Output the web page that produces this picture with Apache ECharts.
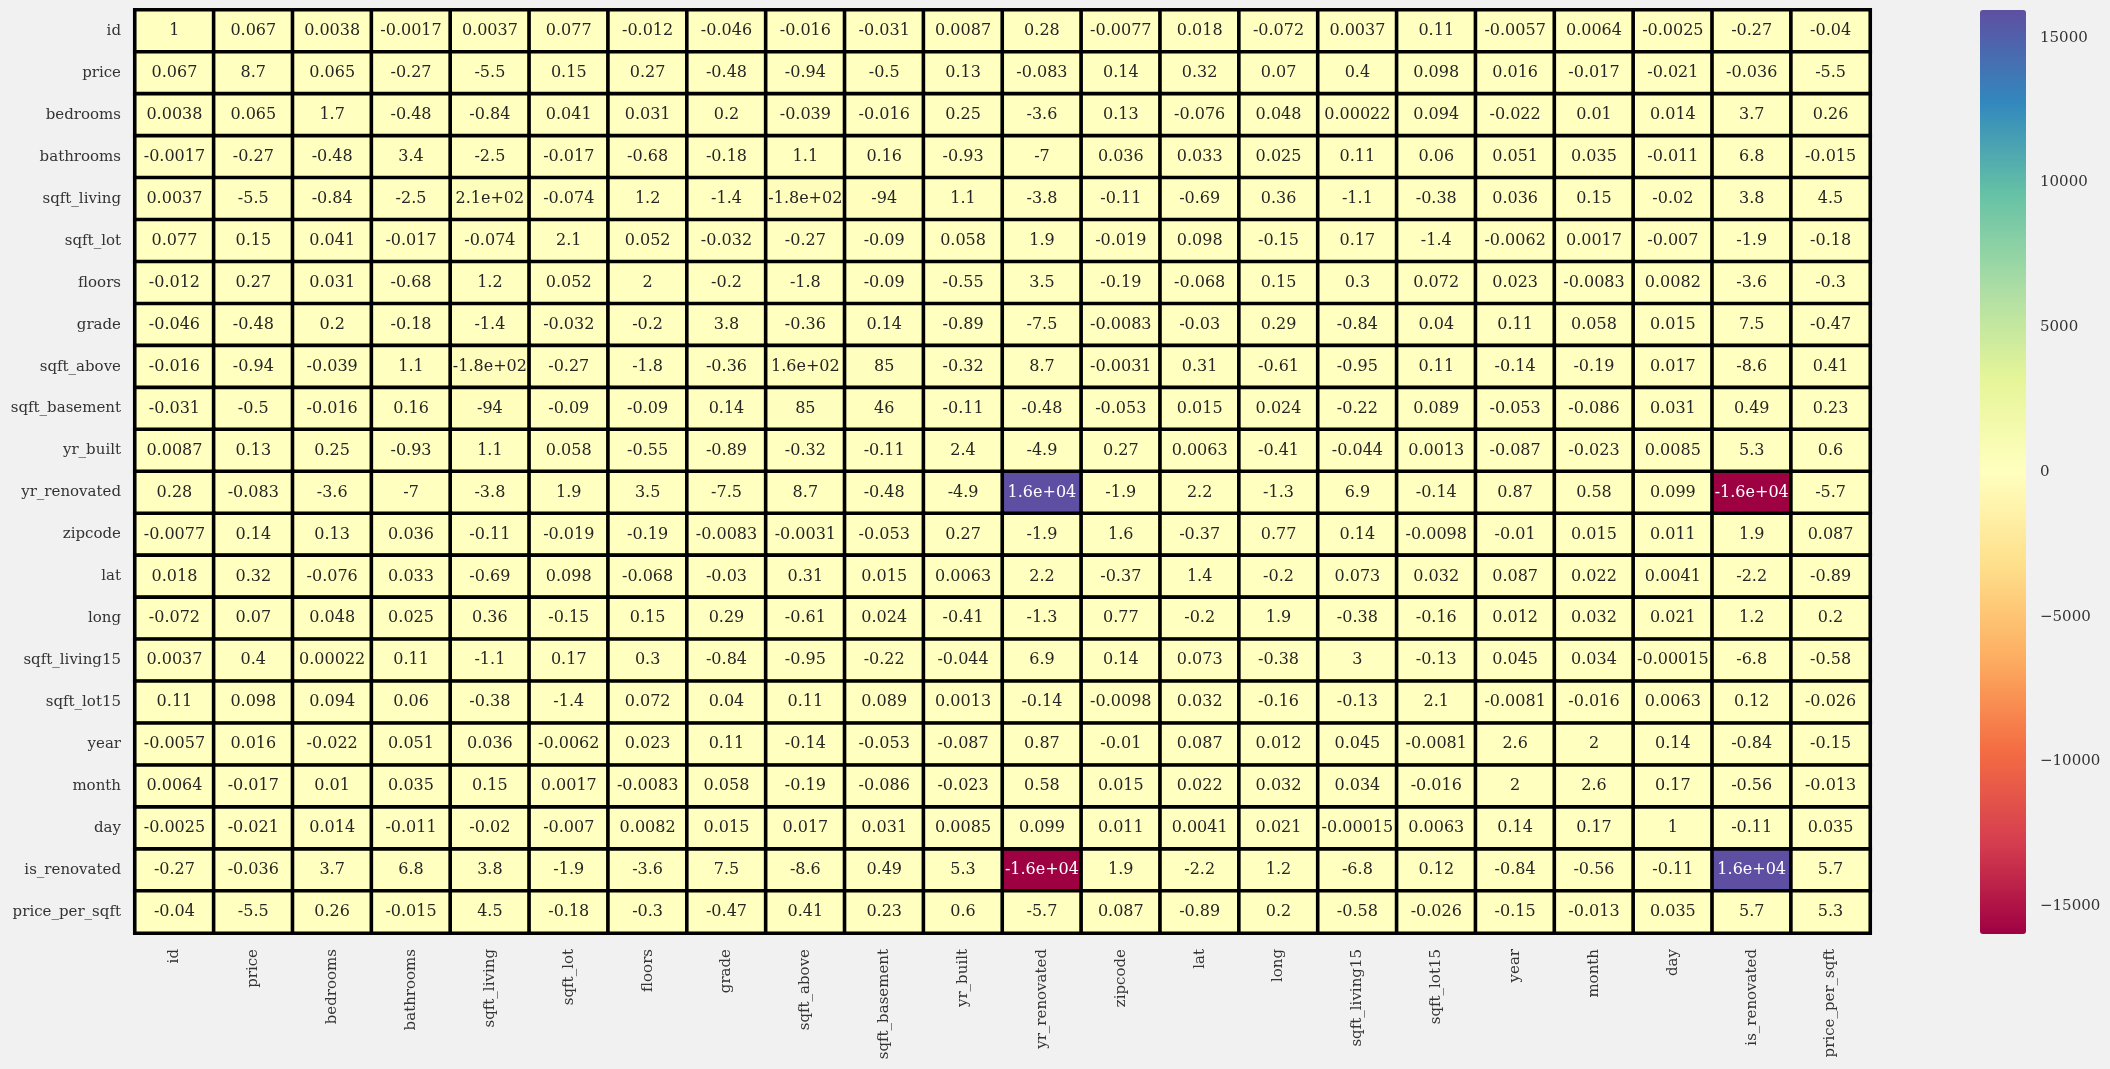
<!DOCTYPE html>
<html>
<head>
<meta charset="utf-8">
<script src="https://cdn.jsdelivr.net/npm/echarts@6/dist/echarts.min.js"></script>
<style>
html,body{margin:0;padding:0;background:#f1f1f1;}
#chart{width:2110px;height:1069px;}
</style>
</head>
<body>
<div id="chart"></div>
<script>
const categories = ['id','price','bedrooms','bathrooms','sqft_living','sqft_lot','floors','grade','sqft_above','sqft_basement','yr_built','yr_renovated','zipcode','lat','long','sqft_living15','sqft_lot15','year','month','day','is_renovated','price_per_sqft'];

const row_id = [1, 0.067, 0.0038, -0.0017, 0.0037, 0.077, -0.012, -0.046, -0.016, -0.031, 0.0087, 0.28, -0.0077, 0.018, -0.072, 0.0037, 0.11, -0.0057, 0.0064, -0.0025, -0.27, -0.04];
const row_price = [0.067, 8.7, 0.065, -0.27, -5.5, 0.15, 0.27, -0.48, -0.94, -0.5, 0.13, -0.083, 0.14, 0.32, 0.07, 0.4, 0.098, 0.016, -0.017, -0.021, -0.036, -5.5];
const row_bedrooms = [0.0038, 0.065, 1.7, -0.48, -0.84, 0.041, 0.031, 0.2, -0.039, -0.016, 0.25, -3.6, 0.13, -0.076, 0.048, 0.00022, 0.094, -0.022, 0.01, 0.014, 3.7, 0.26];
const row_bathrooms = [-0.0017, -0.27, -0.48, 3.4, -2.5, -0.017, -0.68, -0.18, 1.1, 0.16, -0.93, -7, 0.036, 0.033, 0.025, 0.11, 0.06, 0.051, 0.035, -0.011, 6.8, -0.015];
const row_sqft_living = [0.0037, -5.5, -0.84, -2.5, 210, -0.074, 1.2, -1.4, -180, -94, 1.1, -3.8, -0.11, -0.69, 0.36, -1.1, -0.38, 0.036, 0.15, -0.02, 3.8, 4.5];
const row_sqft_lot = [0.077, 0.15, 0.041, -0.017, -0.074, 2.1, 0.052, -0.032, -0.27, -0.09, 0.058, 1.9, -0.019, 0.098, -0.15, 0.17, -1.4, -0.0062, 0.0017, -0.007, -1.9, -0.18];
const row_floors = [-0.012, 0.27, 0.031, -0.68, 1.2, 0.052, 2, -0.2, -1.8, -0.09, -0.55, 3.5, -0.19, -0.068, 0.15, 0.3, 0.072, 0.023, -0.0083, 0.0082, -3.6, -0.3];
const row_grade = [-0.046, -0.48, 0.2, -0.18, -1.4, -0.032, -0.2, 3.8, -0.36, 0.14, -0.89, -7.5, -0.0083, -0.03, 0.29, -0.84, 0.04, 0.11, 0.058, 0.015, 7.5, -0.47];
const row_sqft_above = [-0.016, -0.94, -0.039, 1.1, -180, -0.27, -1.8, -0.36, 160, 85, -0.32, 8.7, -0.0031, 0.31, -0.61, -0.95, 0.11, -0.14, -0.19, 0.017, -8.6, 0.41];
const row_sqft_basement = [-0.031, -0.5, -0.016, 0.16, -94, -0.09, -0.09, 0.14, 85, 46, -0.11, -0.48, -0.053, 0.015, 0.024, -0.22, 0.089, -0.053, -0.086, 0.031, 0.49, 0.23];
const row_yr_built = [0.0087, 0.13, 0.25, -0.93, 1.1, 0.058, -0.55, -0.89, -0.32, -0.11, 2.4, -4.9, 0.27, 0.0063, -0.41, -0.044, 0.0013, -0.087, -0.023, 0.0085, 5.3, 0.6];
const row_yr_renovated = [0.28, -0.083, -3.6, -7, -3.8, 1.9, 3.5, -7.5, 8.7, -0.48, -4.9, 15960, -1.9, 2.2, -1.3, 6.9, -0.14, 0.87, 0.58, 0.099, -15960, -5.7];
const row_zipcode = [-0.0077, 0.14, 0.13, 0.036, -0.11, -0.019, -0.19, -0.0083, -0.0031, -0.053, 0.27, -1.9, 1.6, -0.37, 0.77, 0.14, -0.0098, -0.01, 0.015, 0.011, 1.9, 0.087];
const row_lat = [0.018, 0.32, -0.076, 0.033, -0.69, 0.098, -0.068, -0.03, 0.31, 0.015, 0.0063, 2.2, -0.37, 1.4, -0.2, 0.073, 0.032, 0.087, 0.022, 0.0041, -2.2, -0.89];
const row_long = [-0.072, 0.07, 0.048, 0.025, 0.36, -0.15, 0.15, 0.29, -0.61, 0.024, -0.41, -1.3, 0.77, -0.2, 1.9, -0.38, -0.16, 0.012, 0.032, 0.021, 1.2, 0.2];
const row_sqft_living15 = [0.0037, 0.4, 0.00022, 0.11, -1.1, 0.17, 0.3, -0.84, -0.95, -0.22, -0.044, 6.9, 0.14, 0.073, -0.38, 3, -0.13, 0.045, 0.034, -0.00015, -6.8, -0.58];
const row_sqft_lot15 = [0.11, 0.098, 0.094, 0.06, -0.38, -1.4, 0.072, 0.04, 0.11, 0.089, 0.0013, -0.14, -0.0098, 0.032, -0.16, -0.13, 2.1, -0.0081, -0.016, 0.0063, 0.12, -0.026];
const row_year = [-0.0057, 0.016, -0.022, 0.051, 0.036, -0.0062, 0.023, 0.11, -0.14, -0.053, -0.087, 0.87, -0.01, 0.087, 0.012, 0.045, -0.0081, 2.6, 2, 0.14, -0.84, -0.15];
const row_month = [0.0064, -0.017, 0.01, 0.035, 0.15, 0.0017, -0.0083, 0.058, -0.19, -0.086, -0.023, 0.58, 0.015, 0.022, 0.032, 0.034, -0.016, 2, 2.6, 0.17, -0.56, -0.013];
const row_day = [-0.0025, -0.021, 0.014, -0.011, -0.02, -0.007, 0.0082, 0.015, 0.017, 0.031, 0.0085, 0.099, 0.011, 0.0041, 0.021, -0.00015, 0.0063, 0.14, 0.17, 1, -0.11, 0.035];
const row_is_renovated = [-0.27, -0.036, 3.7, 6.8, 3.8, -1.9, -3.6, 7.5, -8.6, 0.49, 5.3, -15960, 1.9, -2.2, 1.2, -6.8, 0.12, -0.84, -0.56, -0.11, 15960, 5.7];
const row_price_per_sqft = [-0.04, -5.5, 0.26, -0.015, 4.5, -0.18, -0.3, -0.47, 0.41, 0.23, 0.6, -5.7, 0.087, -0.89, 0.2, -0.58, -0.026, -0.15, -0.013, 0.035, 5.7, 5.3];

const matrixRows = [row_id,row_price,row_bedrooms,row_bathrooms,row_sqft_living,row_sqft_lot,row_floors,row_grade,row_sqft_above,row_sqft_basement,row_yr_built,row_yr_renovated,row_zipcode,row_lat,row_long,row_sqft_living15,row_sqft_lot15,row_year,row_month,row_day,row_is_renovated,row_price_per_sqft];

const colorMin = -15960;
const colorMax = 15960;
const colorbarTicks = [-15000, -10000, -5000, 0, 5000, 10000, 15000];
const spectral = ['#9e0142','#d53e4f','#f46d43','#fdae61','#fee08b','#ffffbf','#e6f598','#abdda4','#66c2a5','#3288bd','#5e4fa2'];

function fmt2g(v) {
  if (v === 0) return '0';
  const a = Math.abs(v);
  const e = Math.floor(Math.log10(a));
  if (e >= 2 || e < -4) {
    let s = v.toExponential(1);
    let [m, ex] = s.split('e');
    if (m.indexOf('.') >= 0) m = m.replace(/0+$/, '').replace(/\.$/, '');
    const sign = ex[0] === '-' ? '-' : '+';
    let digits = ex.replace(/^[+-]/, '');
    if (digits.length < 2) digits = '0' + digits;
    return m + 'e' + sign + digits;
  }
  let s = v.toPrecision(2);
  if (s.indexOf('.') >= 0) s = s.replace(/0+$/, '').replace(/\.$/, '');
  return s;
}

const data = [];
matrixRows.forEach((row, yi) => {
  row.forEach((v, xi) => {
    const dark = Math.abs(v) > 0.6 * colorMax;
    data.push({ value: [xi, yi, v], label: { color: dark ? '#ffffff' : '#262626' } });
  });
});

const FONT = 'DejaVu Serif';
const chart = echarts.init(document.getElementById('chart'));
chart.setOption({
  backgroundColor: '#f1f1f1',
  animation: false,
  grid: [
    { left: 135, top: 10, width: 1735, height: 923 },
    { left: 1980, top: 10, width: 46, height: 924 }
  ],
  xAxis: [
    {
      type: 'category', data: categories, gridIndex: 0, position: 'bottom',
      axisLine: { show: false }, axisTick: { show: false }, splitLine: { show: false },
      axisLabel: { rotate: 90, interval: 0, margin: 16, fontFamily: FONT, fontSize: 15, color: '#333' }
    },
    { type: 'value', gridIndex: 1, show: false, min: 0, max: 1 }
  ],
  yAxis: [
    {
      type: 'category', data: categories, gridIndex: 0, inverse: true,
      axisLine: { show: false }, axisTick: { show: false }, splitLine: { show: false },
      axisLabel: { interval: 0, margin: 14, fontFamily: FONT, fontSize: 15, color: '#333' }
    },
    {
      type: 'value', gridIndex: 1, position: 'right', min: colorMin, max: colorMax,
      axisLine: { show: false }, splitLine: { show: false },
      axisTick: { show: true, length: 7, customValues: colorbarTicks, lineStyle: { color: '#333', width: 2 } },
      axisLabel: {
        show: true, customValues: colorbarTicks, margin: 14, fontFamily: FONT, fontSize: 15, color: '#333',
        formatter: v => String(v).replace('-', '\u2212')
      }
    }
  ],
  visualMap: {
    type: 'continuous', seriesIndex: 0, min: colorMin, max: colorMax,
    calculable: false, realtime: false, text: null, showLabel: false,
    left: 1980, top: 10, itemWidth: 46, itemHeight: 924, padding: 0,
    inRange: { color: spectral }
  },
  series: [
    {
      type: 'heatmap', xAxisIndex: 0, yAxisIndex: 0, data: data,
      itemStyle: { borderColor: '#000', borderWidth: 3.6 },
      label: {
        show: true, fontFamily: FONT, fontSize: 16,
        formatter: p => fmt2g(p.value[2])
      },
      emphasis: { disabled: true }
    },
    { type: 'line', xAxisIndex: 1, yAxisIndex: 1, data: [], silent: true }
  ]
});
</script>
</body>
</html>
